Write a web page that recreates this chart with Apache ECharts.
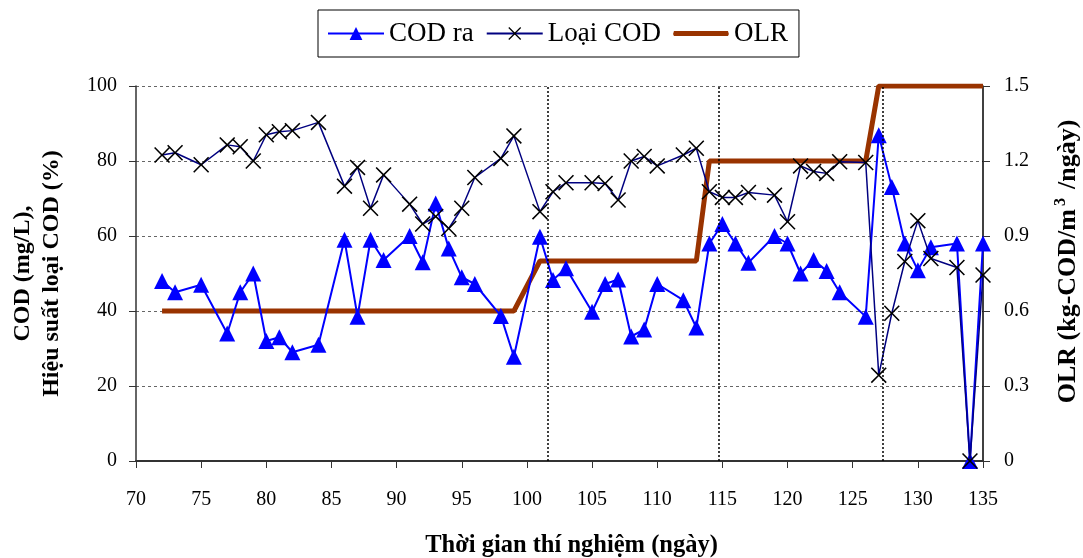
<!DOCTYPE html>
<html>
<head>
<meta charset="utf-8">
<script src="https://cdn.jsdelivr.net/npm/echarts@6/dist/echarts.min.js"></script>
<style>
  html, body { margin: 0; padding: 0; background: #fff; }
  #chart { width: 1083px; height: 558px; }
</style>
</head>
<body>
<div id="chart"></div>
<script>
// --- DATA ---
const days = [72, 73, 75, 77, 78, 79, 80, 81, 82, 84, 86, 87, 88, 89, 91, 92, 93, 94, 95, 96,
  98, 99, 101, 102, 103, 105, 106, 107, 108, 109, 110, 112, 113, 114, 115, 116, 117, 119, 120, 121,
  122, 123, 124, 126, 127, 128, 129, 130, 131, 133, 134, 135];
const codOut = [48, 45, 47, 34, 45, 50, 32, 33, 29, 31, 59, 38.5, 59, 53.6, 60, 53, 68.7, 56.7, 49, 47.2,
  38.7, 27.8, 59.8, 48.3, 51.4, 39.8, 47.2, 48.4, 33.2, 35.1, 47.2, 42.9, 35.6, 58, 63.2, 58, 52.9, 60, 58, 50,
  53.6, 50.7, 45, 38.5, 86.9, 73.1, 58, 50.9, 57, 58, 0, 58];
const codRemoval = [81.6, 82.2, 79, 84.3, 83.8, 80, 87, 87.8, 88.1, 90.3, 73.3, 78.3, 67.4, 76.3, 68.5, 63.2, 65.2, 62, 67.4, 75.6,
  80.7, 86.7, 66.5, 71.8, 74.2, 74.2, 74, 69.6, 80, 81.2, 78.7, 81.6, 83.4, 71.8, 70.3, 70.3, 71.6, 70.9, 63.8, 78.7,
  77.2, 76.7, 79.8, 79.6, 22.9, 39.4, 53.2, 64.1, 54, 51.6, 0, 49.6];
const olrDays = [72, 99, 101, 113, 114, 126, 127, 135];
const olrValues = [0.6, 0.6, 0.8, 0.8, 1.2, 1.2, 1.5, 1.5];
const dividerDays = [101.6, 114.7, 127.3];

const seriesNames = ['COD ra', 'Loại COD', 'OLR'];
const xName = 'Thời gian thí nghiệm (ngày)';
const leftName = 'COD (mg/L),\nHiệu suất loại COD (%)';
const rightName = '{a|OLR (kg-COD/m}{s|3}{a|/ngày)}';

// --- CHART ---
const FONT = '"Liberation Serif", "DejaVu Serif", serif';
const CROSS = 'path://M1.4,0L10,8.6L18.6,0L20,1.4L11.4,10L20,18.6L18.6,20L10,11.4L1.4,20L0,18.6L8.6,10L0,1.4Z';
// thick bar icon, padded with move-to points so it keeps a thin-line look
const BAR_ICON = 'path://M0,0M56,0M0,16M56,16M1,5.5L55,5.5Q56.5,8 55,10.5L1,10.5Q-0.5,8 1,5.5Z';
const pair = (xs, ys) => xs.map((x, i) => [x, ys[i]]);

const chart = echarts.init(document.getElementById('chart'), null, { renderer: 'canvas' });

chart.setOption({
  animation: false,
  backgroundColor: '#fff',
  textStyle: { fontFamily: FONT, color: '#000' },
  legend: {
    top: 10,
    left: 318,
    data: [{ name: seriesNames[0] }, { name: seriesNames[1] }, { name: seriesNames[2], icon: BAR_ICON }],
    borderColor: '#000',
    borderWidth: 1,
    padding: [10, 11, 10, 9],
    itemGap: 12,
    itemWidth: 56,
    itemHeight: 16,
    textStyle: { fontFamily: FONT, fontSize: 27, color: '#000' }
  },
  grid: { left: 136, right: 100, top: 86, bottom: 97, containLabel: false, outerBoundsMode: 'none' },
  xAxis: {
    type: 'value',
    min: 70, max: 135, interval: 5,
    name: xName,
    nameLocation: 'middle',
    nameGap: 72,
    nameTextStyle: { fontFamily: FONT, fontSize: 24.5, fontWeight: 'bold', color: '#000', padding: [0, 0, 0, 24] },
    axisLine: { show: true, lineStyle: { color: '#333', width: 2 } },
    axisTick: { show: true, length: 7, lineStyle: { color: '#333' } },
    axisLabel: { fontFamily: FONT, fontSize: 20, color: '#000', margin: 29 },
    splitLine: { show: false }
  },
  yAxis: [
    {
      type: 'value',
      min: 0, max: 100, interval: 20,
      name: leftName,
      nameLocation: 'middle',
      nameRotate: 90,
      nameGap: 70,
      nameTextStyle: { fontFamily: FONT, fontSize: 24, fontWeight: 'bold', color: '#000', lineHeight: 29 },
      axisLine: { show: true, lineStyle: { color: '#333', width: 1.5 } },
      axisTick: { show: true, length: 7, lineStyle: { color: '#333' } },
      axisLabel: { fontFamily: FONT, fontSize: 20, color: '#000', margin: 19 },
      splitLine: { show: true, lineStyle: { color: '#666', type: [3, 3], width: 1 } }
    },
    {
      type: 'value',
      min: 0, max: 1.5, interval: 0.3,
      position: 'right',
      name: rightName,
      nameLocation: 'middle',
      nameRotate: 90,
      nameGap: 70,
      nameTextStyle: {
        fontFamily: FONT, color: '#000', padding: [0, 0, 0, 24],
        rich: {
          a: { fontFamily: FONT, fontSize: 26, fontWeight: 'bold', color: '#000', lineHeight: 30 },
          s: { fontFamily: FONT, fontSize: 16, fontWeight: 'bold', color: '#000', lineHeight: 30, verticalAlign: 'top', padding: [0, 9, 12, 3] }
        }
      },
      axisLine: { show: true, lineStyle: { color: '#000', width: 1.5 } },
      axisTick: { show: true, length: 7, lineStyle: { color: '#333' } },
      axisLabel: {
        fontFamily: FONT, fontSize: 20, color: '#000', margin: 21,
        formatter: v => (v === 0 ? '0' : v.toFixed(1))
      },
      splitLine: { show: false }
    }
  ],
  series: [
    {
      name: 'COD ra',
      type: 'line',
      yAxisIndex: 0,
      z: 3,
      data: pair(days, codOut),
      symbol: 'triangle',
      symbolSize: 16,
      showAllSymbol: true,
      itemStyle: { color: '#0000ff' },
      lineStyle: { color: '#0000ff', width: 2 }
    },
    {
      name: 'Loại COD',
      type: 'line',
      yAxisIndex: 0,
      z: 4,
      data: pair(days, codRemoval),
      symbol: CROSS,
      symbolSize: 16,
      showAllSymbol: true,
      itemStyle: { color: '#000' },
      lineStyle: { color: '#000080', width: 1.5 },
      markLine: {
        silent: true,
        symbol: 'none',
        label: { show: false },
        lineStyle: { color: '#000', type: [2, 2], width: 1.5 },
        data: dividerDays.map(d => ({ xAxis: d }))
      }
    },
    {
      name: 'OLR',
      type: 'line',
      yAxisIndex: 1,
      z: 2,
      data: pair(olrDays, olrValues),
      symbol: 'none',
      lineStyle: { color: '#993300', width: 5 },
      itemStyle: { color: '#993300' }
    }
  ]
});
</script>
</body>
</html>
